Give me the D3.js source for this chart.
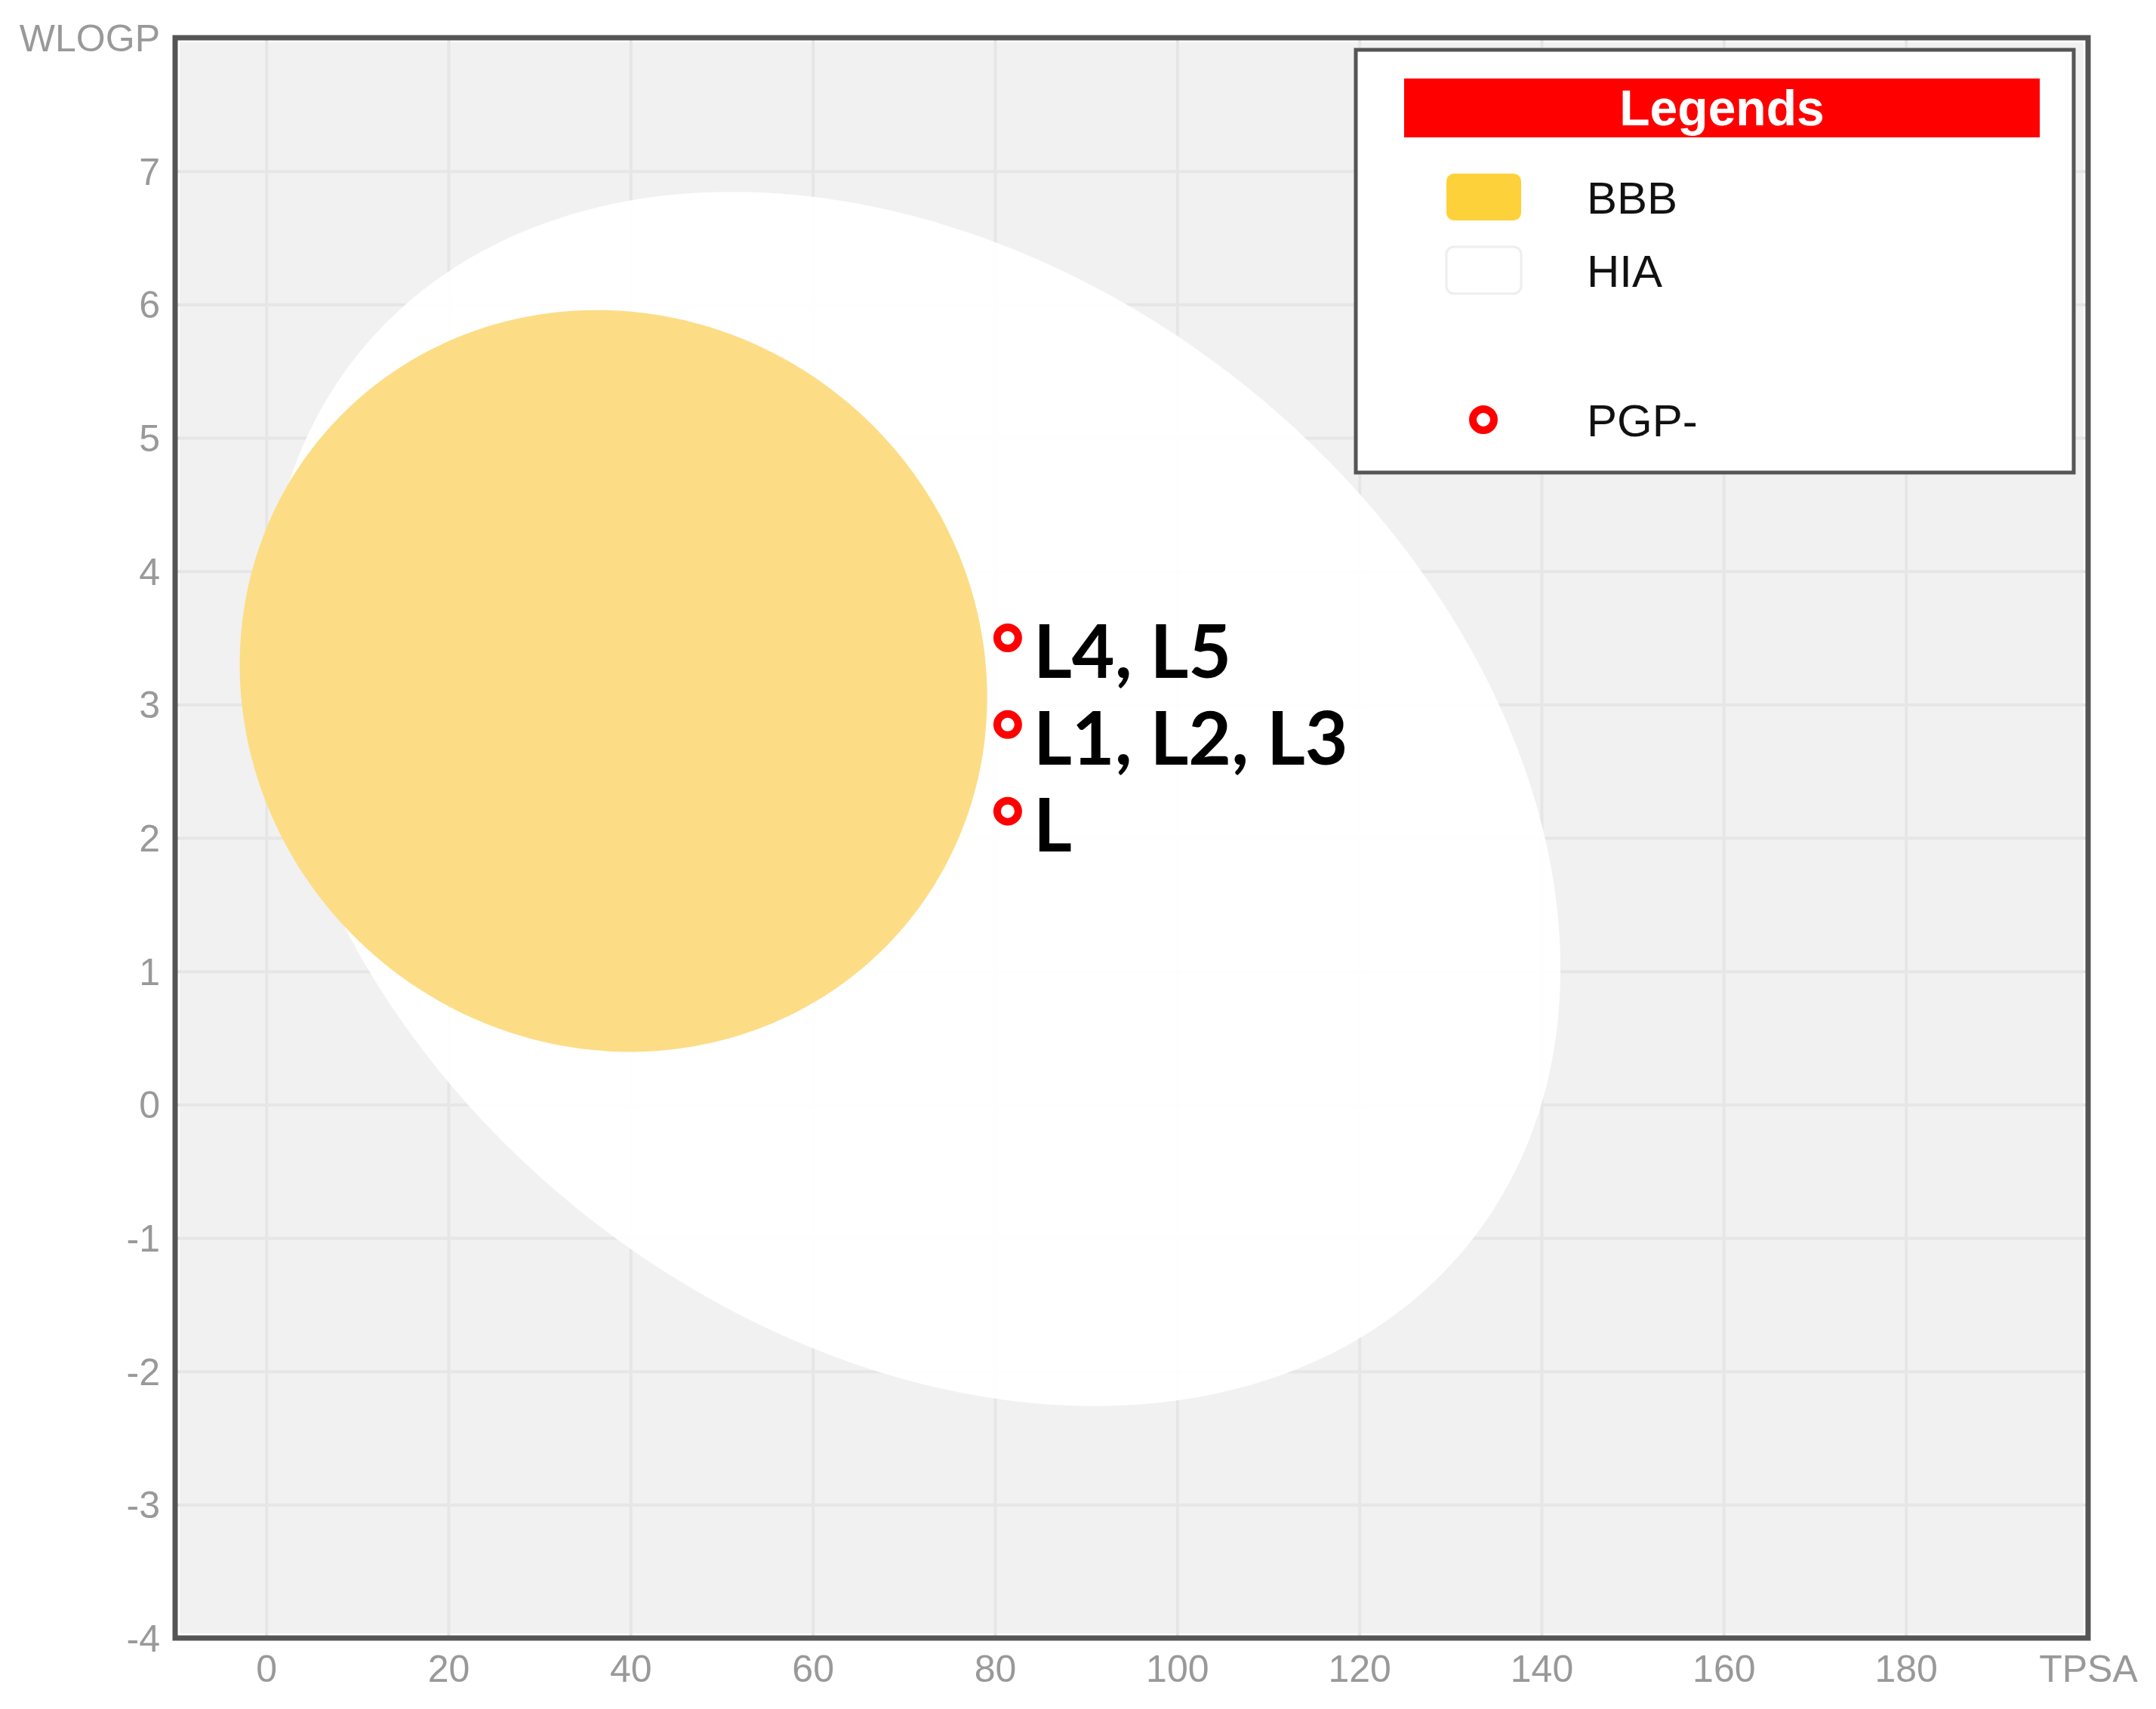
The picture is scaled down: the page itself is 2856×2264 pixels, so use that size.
<!DOCTYPE html>
<html>
<head>
<meta charset="utf-8">
<script src="https://cdn.jsdelivr.net/npm/d3@7"></script>
<style>
  html, body { margin: 0; padding: 0; background: #ffffff; }
  svg { display: block; }
</style>
</head>
<body>
<script>
// ---------------- data ----------------
// BOILED-Egg regions (TPSA / WLOGP space)
const regionNames   = ["HIA", "BBB"];
const regionCx      = [71.051, 38.117];   // TPSA centre
const regionCy      = [2.292, 3.177];     // WLOGP centre
const regionAxisA   = [142.081, 82.061];  // full axis along TPSA
const regionAxisB   = [8.740, 5.557];     // full axis along WLOGP
const regionAngle   = [-1.031325, -0.171887]; // degrees

// molecules (PGP- points)
const pointLabels = ["L4, L5", "L1, L2, L3", "L"];
const pointTPSA   = [81.4, 81.4, 81.4];
const pointWLOGP  = [3.50, 2.85, 2.20];

// axes
const xTicks = [0, 20, 40, 60, 80, 100, 120, 140, 160, 180, 200];
const yTicks = [-4, -3, -2, -1, 0, 1, 2, 3, 4, 5, 6, 7, 8];
const xTitle = "TPSA";
const yTitle = "WLOGP";

// legend
const legendTitle  = "Legends";
const legendLabels = ["BBB", "HIA", "PGP-"];

// ---------------- layout ----------------
const W = 2856, H = 2264;
const plot = { left: 232, right: 2766, top: 50, bottom: 2170 };

const svg = d3.select("body").append("svg")
  .attr("width", W).attr("height", H)
  .attr("viewBox", `0 0 ${W} ${H}`);

const x = d3.scaleLinear().domain([-10, 200]).range([plot.left, plot.right]);
const y = d3.scaleLinear().domain([-4, 8]).range([plot.bottom, plot.top]);

// clip
svg.append("defs").append("clipPath").attr("id", "plotClip")
  .append("rect")
  .attr("x", plot.left).attr("y", plot.top)
  .attr("width", plot.right - plot.left).attr("height", plot.bottom - plot.top);

// plot background (with a thin white gap inside the frame)
svg.append("rect")
  .attr("x", plot.left + 6).attr("y", plot.top + 6)
  .attr("width", plot.right - plot.left - 12)
  .attr("height", plot.bottom - plot.top - 12)
  .attr("fill", "#f1f1f1");

// grid
const gridColor = "#e6e6e6";
const gridG = svg.append("g").attr("clip-path", "url(#plotClip)");
gridG.append("g")
  .attr("transform", `translate(0,${plot.bottom})`)
  .call(d3.axisBottom(x).tickValues(xTicks.filter(v => v < 200))
        .tickSize(-(plot.bottom - plot.top)).tickFormat(""))
  .call(g => g.select(".domain").remove())
  .call(g => g.selectAll("line").attr("stroke", gridColor).attr("stroke-width", 4));
gridG.append("g")
  .attr("transform", `translate(${plot.left},0)`)
  .call(d3.axisLeft(y).tickValues(yTicks.filter(v => v > -4 && v < 8))
        .tickSize(-(plot.right - plot.left)).tickFormat(""))
  .call(g => g.select(".domain").remove())
  .call(g => g.selectAll("line").attr("stroke", gridColor).attr("stroke-width", 4));

// ellipses (built in data space, projected through the scales)
function ellipsePoints(i) {
  const th = regionAngle[i] * Math.PI / 180;
  const a = regionAxisA[i] / 2, b = regionAxisB[i] / 2;
  const pts = [];
  for (let k = 0; k <= 360; k++) {
    const t = k * Math.PI / 180;
    const dx = a * Math.cos(t), dy = b * Math.sin(t);
    const px = regionCx[i] + dx * Math.cos(th) - dy * Math.sin(th);
    const py = regionCy[i] + dx * Math.sin(th) + dy * Math.cos(th);
    pts.push([x(px), y(py)]);
  }
  return pts;
}
const line = d3.line().curve(d3.curveLinearClosed);
const regionFill    = { HIA: "#ffffff", BBB: "#fcdd86" };
const regionOpacity = { HIA: 0.95, BBB: 1 };
const ellG = svg.append("g").attr("clip-path", "url(#plotClip)");
regionNames.forEach((name, i) => {
  ellG.append("path")
    .attr("d", line(ellipsePoints(i)))
    .attr("fill", regionFill[name])
    .attr("fill-opacity", regionOpacity[name]);
});

// frame
svg.append("rect")
  .attr("x", plot.left).attr("y", plot.top)
  .attr("width", plot.right - plot.left).attr("height", plot.bottom - plot.top)
  .attr("fill", "none").attr("stroke", "#555").attr("stroke-width", 7);

// axes labels
const tickFont = "'Liberation Sans', Arial, sans-serif";
const yAxisG = svg.append("g")
  .attr("transform", `translate(${plot.left},0)`)
  .call(d3.axisLeft(y).tickValues(yTicks).tickSize(0).tickPadding(20)
        .tickFormat(d => d === 8 ? yTitle : String(d)));
yAxisG.select(".domain").remove();
yAxisG.selectAll("text")
  .attr("font-family", tickFont).attr("font-size", 50)
  .attr("fill", "#999").attr("dy", "0.35em");

const xAxisG = svg.append("g")
  .attr("transform", `translate(0,${plot.bottom})`)
  .call(d3.axisBottom(x).tickValues(xTicks).tickSize(0).tickPadding(22)
        .tickFormat(d => d === 200 ? xTitle : String(d)));
xAxisG.select(".domain").remove();
xAxisG.selectAll("text")
  .attr("font-family", tickFont).attr("font-size", 50)
  .attr("fill", "#999");

// points + labels
const ptG = svg.append("g");
pointLabels.forEach((lab, i) => {
  const cx = x(pointTPSA[i]), cy = y(pointWLOGP[i]);
  ptG.append("circle")
    .attr("cx", cx).attr("cy", cy).attr("r", 14)
    .attr("fill", "#fff").attr("stroke", "#ff0000").attr("stroke-width", 10);
  ptG.append("text")
    .attr("x", cx + 34).attr("y", cy + 53)
    .attr("font-family", "Lato, 'Open Sans', sans-serif")
    .attr("font-weight", 700).attr("font-size", 98)
    .attr("fill", "#000")
    .text(lab);
});

// legend
const lg = svg.append("g");
lg.append("rect")
  .attr("x", 1796).attr("y", 66).attr("width", 951).attr("height", 560)
  .attr("fill", "#fff").attr("stroke", "#555").attr("stroke-width", 5);
lg.append("rect")
  .attr("x", 1860).attr("y", 104).attr("width", 842).attr("height", 78)
  .attr("fill", "#ff0000");
lg.append("text")
  .attr("x", 2281).attr("y", 166).attr("text-anchor", "middle")
  .attr("font-family", tickFont).attr("font-weight", 700).attr("font-size", 66)
  .attr("fill", "#fff").text(legendTitle);

const legendY = [261, 358, 556];
legendLabels.forEach((lab, i) => {
  const cy = legendY[i];
  if (lab === "BBB") {
    lg.append("rect").attr("x", 1916).attr("y", cy - 31).attr("width", 99).attr("height", 62)
      .attr("rx", 10).attr("fill", "#fdd13a");
  } else if (lab === "HIA") {
    lg.append("rect").attr("x", 1916).attr("y", cy - 31).attr("width", 99).attr("height", 62)
      .attr("rx", 10).attr("fill", "#fff").attr("stroke", "#eeeeee").attr("stroke-width", 3);
  } else {
    lg.append("circle").attr("cx", 1965).attr("cy", cy).attr("r", 14)
      .attr("fill", "#fff").attr("stroke", "#ff0000").attr("stroke-width", 10);
  }
  lg.append("text")
    .attr("x", 2102).attr("y", cy).attr("dy", "0.36em")
    .attr("font-family", tickFont).attr("font-size", 60)
    .attr("fill", "#111").text(lab);
});
</script>
</body>
</html>
